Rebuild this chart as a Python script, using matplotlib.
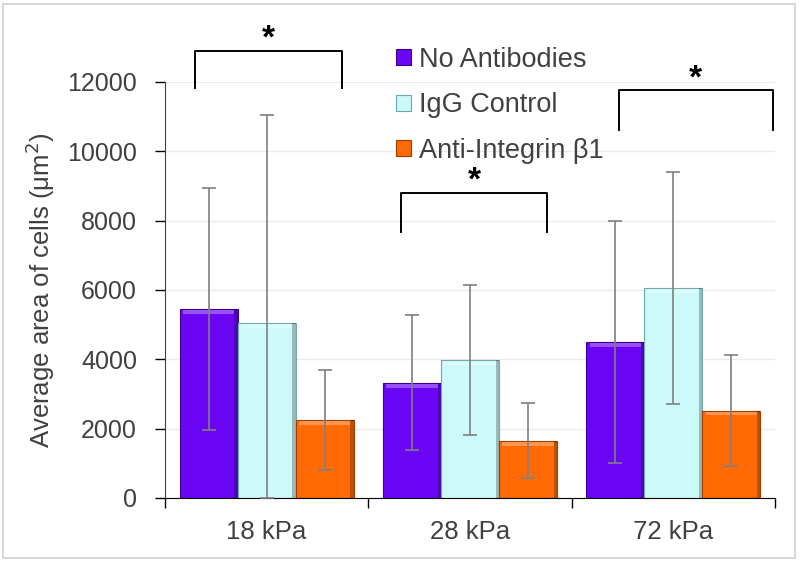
import matplotlib.pyplot as plt
import numpy as np
from matplotlib.patches import Patch, Rectangle

plt.rcParams['font.family'] = ['Liberation Sans', 'DejaVu Sans']

categories = ["18 kPa", "28 kPa", "72 kPa"]
series = ["No Antibodies", "IgG Control", "Anti-Integrin β1"]
colors = ["#6A06F5", "#CCF9F9", "#FF6A05"]
edge_colors = ["#3A0090", "#6FA9AC", "#A33C00"]

no_ab = [5450, 3320, 4500]
no_ab_err = [3500, 1950, 3500]
igg = [5050, 3980, 6060]
igg_err = [6000, 2150, 3350]
anti = [2250, 1650, 2520]
anti_err = [1450, 1080, 1590]

# significance brackets: (x left, x right, top, bottom of legs)
brackets = [(-0.35, 0.37, 12900, 11830),
            (0.66, 1.38, 8800, 7680),
            (1.73, 2.49, 11760, 10620)]

fig = plt.figure(figsize=(8, 5.63), dpi=100)
ax = fig.add_axes([0.206, 0.1155, 0.763, 0.739])

x = np.arange(len(categories))
w = 0.285
vals = [no_ab, igg, anti]
errs = [no_ab_err, igg_err, anti_err]

for i in range(3):
    bars = ax.bar(x + (i - 1) * w, vals[i], w, color=colors[i],
                  edgecolor=edge_colors[i], linewidth=0.8, zorder=2)
    # simple bevel look
    for b in bars:
        bx, bw, bh = b.get_x(), b.get_width(), b.get_height()
        ax.add_patch(Rectangle((bx + bw * 0.06, bh - 140), bw * 0.88, 110,
                               color="white", alpha=0.3, lw=0, zorder=3))
        ax.add_patch(Rectangle((bx + bw * 0.94, 0), bw * 0.06, bh,
                               color="black", alpha=0.25, lw=0, zorder=3))
    lo = [min(v, e) for v, e in zip(vals[i], errs[i])]
    ax.errorbar(x + (i - 1) * w, vals[i], yerr=[lo, errs[i]], fmt="none",
                ecolor="#7F7F7F", elinewidth=1.2, capsize=5, capthick=1.2, zorder=4)

ax.set_xlim(-0.5, 2.5)
ax.set_ylim(0, 12000)
ax.set_yticks(range(0, 12001, 2000))
ax.yaxis.grid(True, color="#EBEBEB", lw=1, zorder=0)
ax.set_axisbelow(True)

ax.set_xticks(x)
ax.set_xticklabels(categories)
ax.set_xticks([-0.5, 0.5, 1.5, 2.5], minor=True)
ax.tick_params(axis="x", which="major", length=0, pad=16, labelsize=18.5, labelcolor="#404040")
ax.tick_params(axis="x", which="minor", length=7, width=1, direction="out")
ax.tick_params(axis="y", length=7, width=1, direction="out", pad=13,
               labelsize=18, labelcolor="#404040")

for s in ["top", "right"]:
    ax.spines[s].set_visible(False)
ax.spines["left"].set_color("#404040")
ax.spines["bottom"].set_color("black")

ax.set_ylabel("Average area of cells (μm$^2$)", fontsize=18.5, color="#404040", labelpad=7)

for (xl, xr, top, bot) in brackets:
    ax.plot([xl, xl, xr, xr], [bot, top, top, bot], color="black", lw=1.4,
            clip_on=False, zorder=5)
    ax.text((xl + xr) / 2, top - 120, "*", ha="center", va="bottom",
            fontsize=24, fontweight="bold", clip_on=False)

handles = [Patch(facecolor=c, edgecolor=e, lw=0.8) for c, e in zip(colors, edge_colors)]
fig.legend(handles, series, loc="upper left", bbox_to_anchor=(0.465, 0.96),
           frameon=False, fontsize=19.5, handlelength=0.55, handleheight=0.55,
           handletextpad=0.3, labelspacing=0.72, labelcolor="#404040")

fig.patches.append(Rectangle((0.004, 0.008), 0.99, 0.985, transform=fig.transFigure,
                             fill=False, edgecolor="#D0D0D0", lw=1.2))

fig.savefig("out.png", dpi=100)
